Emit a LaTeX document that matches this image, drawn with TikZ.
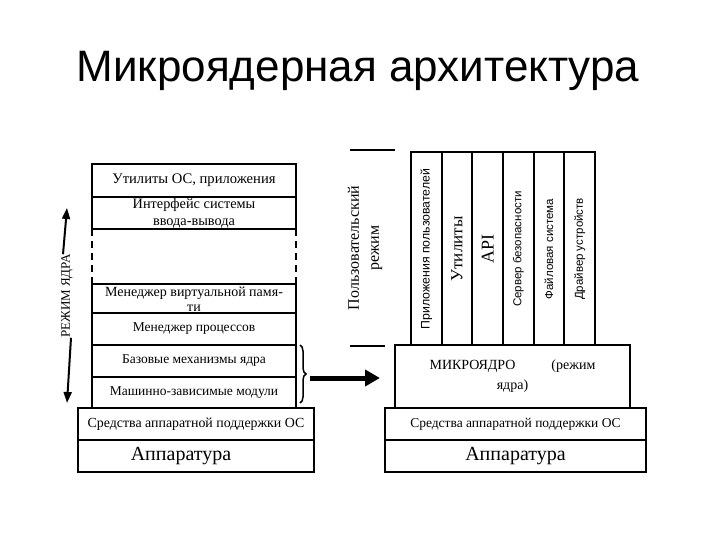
\documentclass[tikz,border=0pt]{standalone}
\usepackage{fontspec}
\setmainfont{Liberation Serif}
\newfontfamily\titlefont{Liberation Sans}
\newfontfamily\colfont{Liberation Sans}
\usetikzlibrary{arrows.meta,positioning,decorations.pathreplacing}

\begin{document}
\begin{tikzpicture}[x=1pt,y=-1pt,every node/.style={font=\fontsize{13.5}{16}\selectfont,align=center,inner sep=0pt,outer sep=0pt},layer/.style={draw,line width=1.6pt,fill=white,minimum width=204pt},wide/.style={draw,line width=1.6pt,minimum width=236pt,minimum height=32pt},col/.style={draw,line width=1.8pt,rotate=90,minimum width=194pt,minimum height=30.67pt,font=\colfont\fontsize{11.5}{13}\selectfont}]
  \useasboundingbox (0,0) rectangle (720,540);
  % Title
  \node[anchor=base,font=\titlefont\fontsize{44}{50}\selectfont] (title) at (358,82) {Микроядерная архитектура};

  % Classic kernel
  \node[layer,minimum height=33pt,font=\fontsize{14.6}{16}\selectfont] (util) at (194,180.5) {Утилиты ОС, приложения};
  \node[layer,minimum height=32pt,font=\fontsize{14.3}{17}\selectfont] (io) at (194,213) {Интерфейс системы\\ввода-вывода};
  \node[layer,minimum height=30pt,font=\fontsize{14}{15}\selectfont] (vmm) at (194,299) {Менеджер виртуальной памя-\\ти};
  \node[layer,minimum height=32pt] (proc) at (194,329) {Менеджер процессов};
  \node[layer,minimum height=32pt] (base) at (194,361) {Базовые механизмы ядра};
  \node[layer,minimum height=31pt] (mdep) at (194,392.5) {Машинно-зависимые модули};
  \node[wide,font=\fontsize{13.9}{16}\selectfont] (hws) at (196,424) {Средства аппаратной поддержки ОС};
  \node[wide] (hw) at (196,456) {};
  \node[font=\fontsize{20}{22}\selectfont] (hwtext) at (181,456) {Аппаратура};
  \draw[line width=1.6pt,dash pattern=on 7pt off 5pt] (io.south west) -- (vmm.north west);
  \draw[line width=1.6pt,dash pattern=on 7pt off 5pt] (io.south east) -- (vmm.north east);

  % Kernel mode
  \node[rotate=90,font=\fontsize{13}{14}\selectfont] (kmode) at (67,296) {РЕЖИМ ЯДРА};
  \coordinate (ktop) at (67,208);
  \coordinate (kbot) at (67,403);
  \draw[-{Triangle[length=11pt,width=8pt]},line width=2pt] ([xshift=-4pt]kmode.east) -- (ktop);
  \draw[-{Triangle[length=11pt,width=8pt]},line width=2pt] ([xshift=4pt]kmode.west) -- (kbot);

  % Brace and arrow
  \draw[line width=1.5pt,decorate,decoration={brace,amplitude=6pt}] (300,345) -- (300,403);
  \coordinate (btip) at (310,378);

  % Microkernel
  \draw[line width=1.6pt] (350,150) -- (395,150);
  \draw[line width=1.6pt] (350,346) -- (385,346);
  \node[rotate=90,font=\fontsize{16}{20}\selectfont] (umode) at (365,248) {Пользовательский\\режим};
  \node[col,font=\colfont\fontsize{12.3}{14}\selectfont] (c1) at (426.3,249) {Приложения пользователей};
  \node[col,font=\fontsize{17}{19}\selectfont] (c2) at (457.0,249) {Утилиты};
  \node[col,font=\fontsize{18}{20}\selectfont] (c3) at (487.7,249) {API};
  \node[col] (c4) at (518.3,249) {Сервер безопасности};
  \node[col] (c5) at (549.0,249) {Файловая система};
  \node[col] (c6) at (579.7,249) {Драйвер устройств};
  \node[draw,line width=1.6pt,fill=white,minimum width=235pt,minimum height=63pt,font=\fontsize{14}{20}\selectfont] (mk) at (512.5,376.5) {МИКРОЯДРО\hspace{36pt}(режим\\ядра)\rule[-4pt]{0pt}{0pt}};
  \node[wide,minimum width=261pt] (rhws) at (515.5,424) {Средства аппаратной поддержки ОС};
  \node[wide,minimum width=261pt,font=\fontsize{20}{22}\selectfont] (rhw) at (515.5,456) {Аппаратура};
  \draw[-{Triangle[length=15pt,width=16pt]},line width=5pt] (btip) -- ([xshift=-15pt]mk.west |- btip);
\end{tikzpicture}
\end{document}
